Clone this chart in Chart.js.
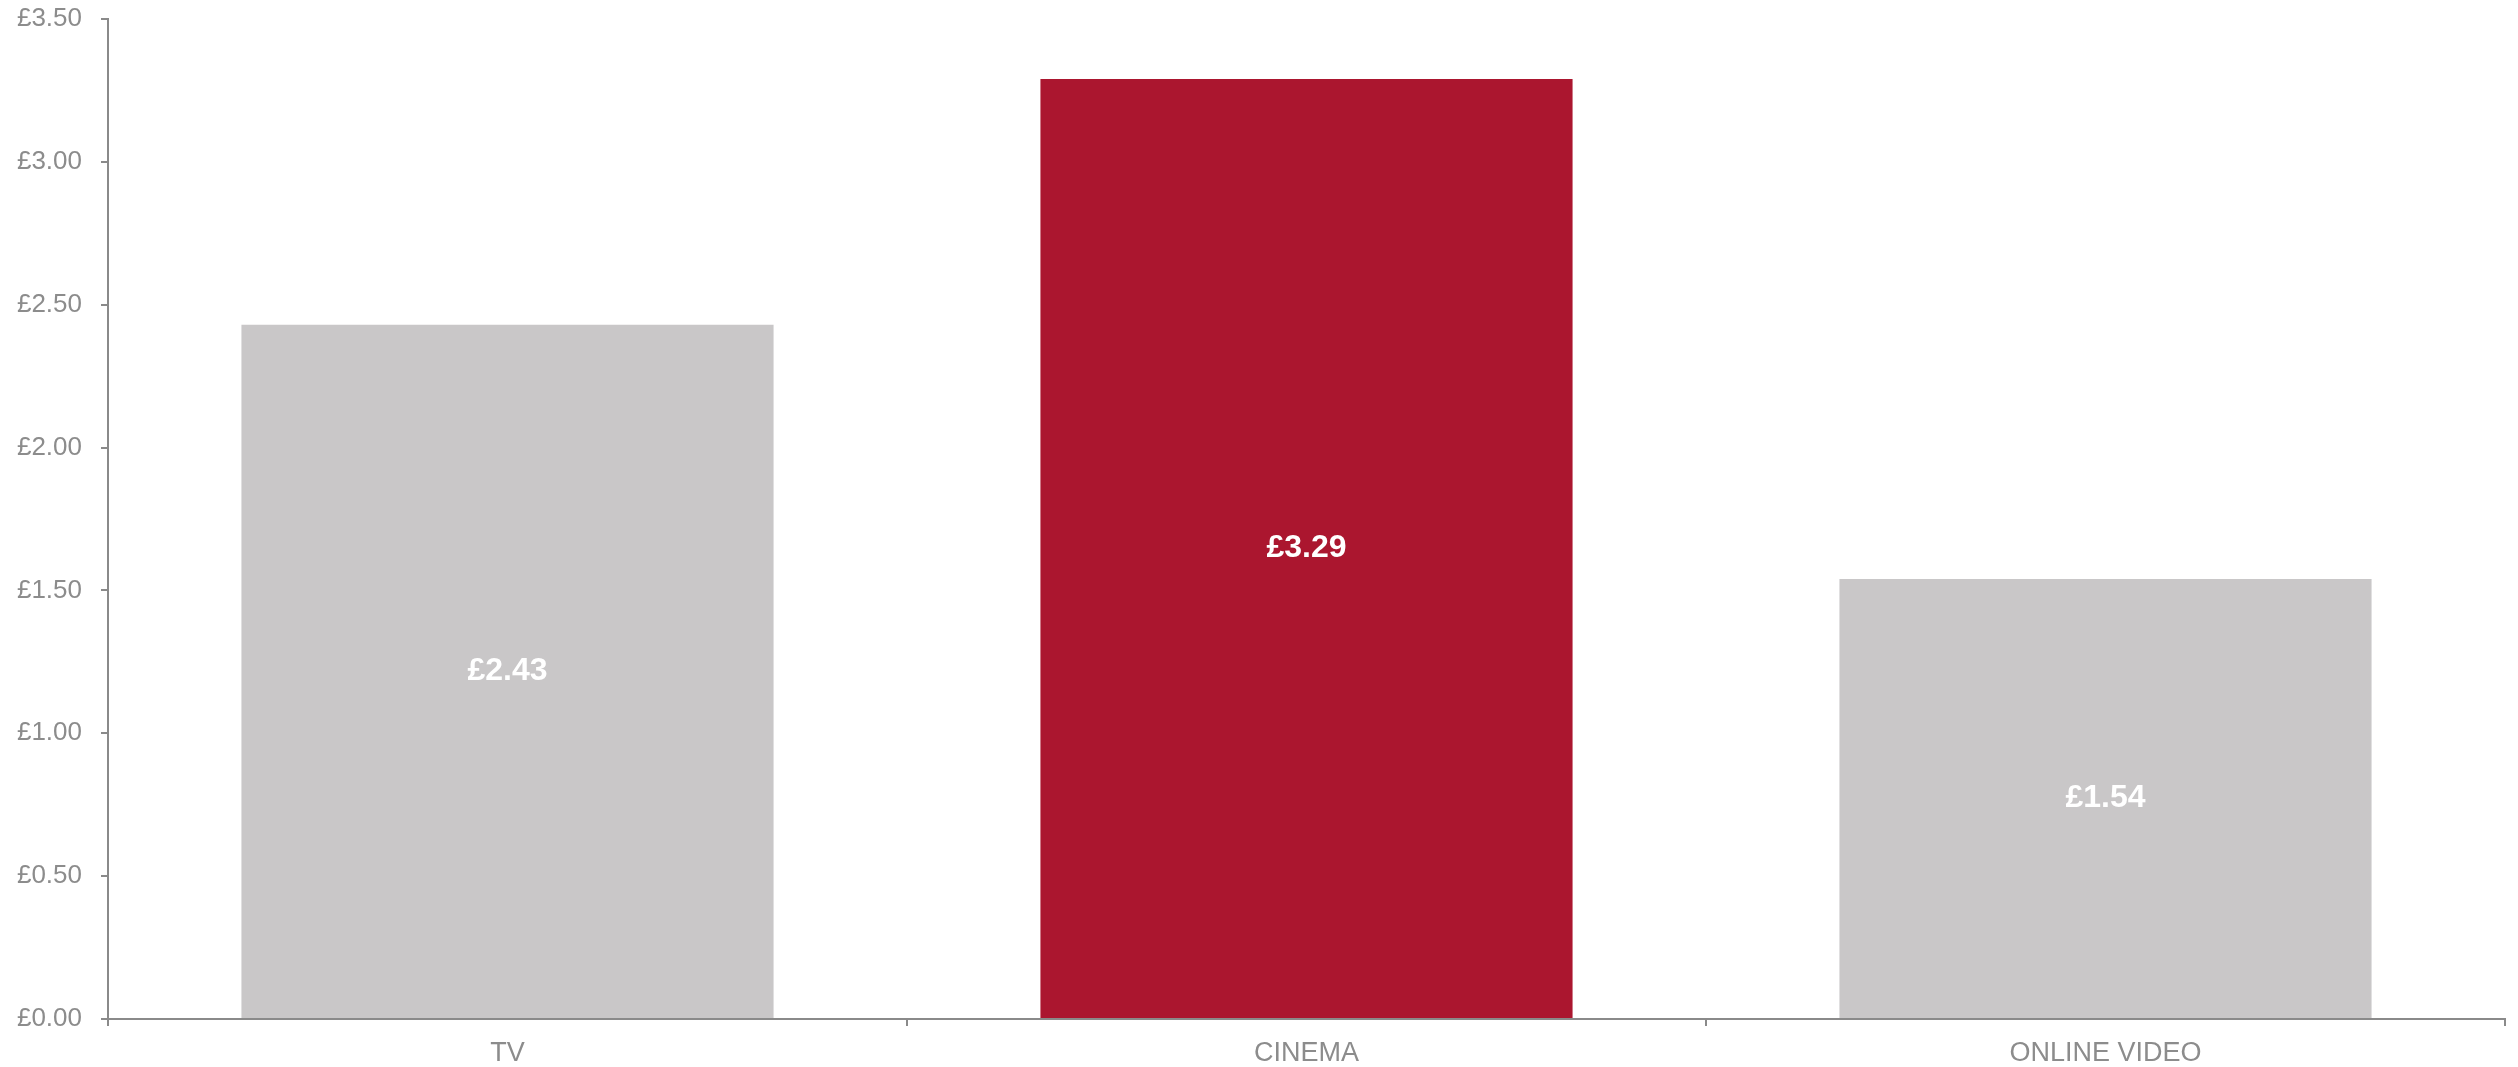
<!DOCTYPE html>
<html>
<head>
<meta charset="utf-8">
<script src="https://cdn.jsdelivr.net/npm/chart.js@4"></script>
<style>
  html, body { margin: 0; padding: 0; background: #ffffff; }
  #wrap { width: 2518px; height: 1067px; }
</style>
</head>
<body>
<div id="wrap"><canvas id="costChart"></canvas></div>
<script>
const categories = ['TV', 'CINEMA', 'ONLINE VIDEO'];
const costValues = [2.43, 3.29, 1.54];
const barColors = ['#c9c7c8', '#ab162f', '#c9c7c8'];
const yTicks = [0, 0.5, 1, 1.5, 2, 2.5, 3, 3.5];

const axisGrey = '#8a8a8a';

// Writes each bar's value in the middle of the bar
const valueLabels = {
    id: 'valueLabels',
    afterDatasetsDraw(chart) {
        const ctx = chart.ctx;
        const meta = chart.getDatasetMeta(0);
        ctx.save();
        ctx.font = 'bold 32px "Liberation Sans", Arial, sans-serif';
        ctx.fillStyle = '#ffffff';
        ctx.textAlign = 'center';
        ctx.textBaseline = 'middle';
        meta.data.forEach((bar, i) => {
            const value = chart.data.datasets[0].data[i];
            ctx.fillText('£' + value.toFixed(2), bar.x, (bar.y + bar.base) / 2);
        });
        ctx.restore();
    }
};

new Chart(document.getElementById('costChart'), {
    type: 'bar',
    data: {
        labels: categories,
        datasets: [{
            data: costValues,
            backgroundColor: barColors,
            borderWidth: 0,
            categoryPercentage: 1,
            barPercentage: 0.666
        }]
    },
    options: {
        responsive: true,
        maintainAspectRatio: false,
        animation: false,
        layout: { padding: { top: 19, right: 13, left: 0, bottom: 0 } },
        plugins: {
            legend: { display: false },
            tooltip: { enabled: false }
        },
        scales: {
            x: {
                border: { display: true, color: axisGrey, width: 2 },
                grid: {
                    display: true,
                    drawOnChartArea: false,
                    drawTicks: true,
                    tickLength: 7,
                    color: axisGrey,
                    lineWidth: 2,
                    offset: true
                },
                ticks: {
                    color: '#8c8c8c',
                    padding: 11,
                    font: { family: '"Liberation Sans", Arial, sans-serif', size: 27 }
                },
                afterFit(scale) {
                    scale.height = 48;
                    scale.paddingLeft = 0;
                    scale.paddingRight = 0;
                }
            },
            y: {
                min: 0,
                max: 3.5,
                afterBuildTicks(scale) {
                    scale.ticks = yTicks.map(v => ({ value: v }));
                },
                border: { display: true, color: axisGrey, width: 2 },
                grid: {
                    display: true,
                    drawOnChartArea: false,
                    drawTicks: true,
                    tickLength: 7,
                    color: axisGrey,
                    lineWidth: 2
                },
                ticks: {
                    color: '#8c8c8c',
                    padding: 19,
                    font: { family: '"Liberation Sans", Arial, sans-serif', size: 26 },
                    callback: value => '£' + Number(value).toFixed(2)
                },
                afterFit(scale) {
                    scale.width = 108;
                    scale.paddingTop = 0;
                    scale.paddingBottom = 0;
                }
            }
        }
    },
    plugins: [valueLabels]
});
</script>
</body>
</html>
